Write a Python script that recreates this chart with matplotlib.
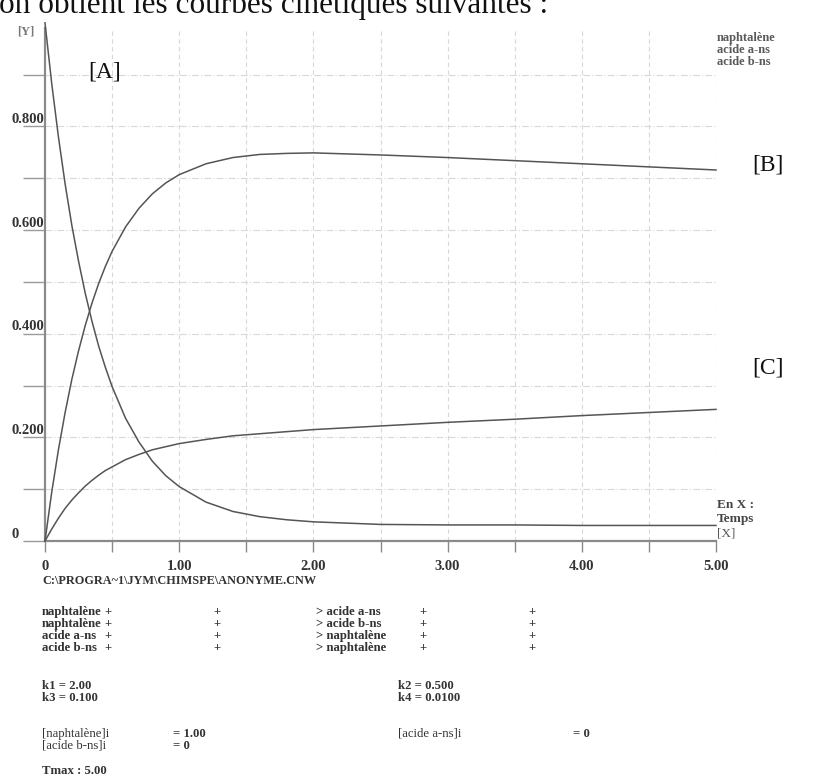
import matplotlib
matplotlib.use("Agg")
import matplotlib.pyplot as plt

# ---------------- data ----------------
t = [0, 0.05, 0.1, 0.15, 0.2, 0.25, 0.3, 0.35, 0.4, 0.45, 0.5, 0.6, 0.7, 0.8, 0.9, 1.0,
     1.2, 1.4, 1.6, 1.8, 2.0, 2.5, 3.0, 3.5, 4.0, 4.5, 5.0]
naphtalene = [1.000, 0.883, 0.780, 0.689, 0.609, 0.540, 0.478, 0.424, 0.376, 0.335, 0.298,
              0.237, 0.191, 0.154, 0.126, 0.105,
              0.075, 0.057, 0.047, 0.041, 0.037, 0.032, 0.031, 0.031, 0.030, 0.030, 0.030]
acide_a = [0.000, 0.094, 0.176, 0.248, 0.312, 0.367, 0.416, 0.459, 0.497, 0.530, 0.559,
           0.606, 0.642, 0.670, 0.691, 0.707,
           0.728, 0.740, 0.746, 0.748, 0.749, 0.745, 0.740, 0.734, 0.728, 0.722, 0.716]
acide_b = [0.000, 0.023, 0.044, 0.063, 0.079, 0.093, 0.106, 0.117, 0.127, 0.136, 0.143,
           0.157, 0.167, 0.176, 0.182, 0.188,
           0.196, 0.203, 0.207, 0.211, 0.215, 0.222, 0.229, 0.235, 0.242, 0.248, 0.254]

x_ticks = [0, 1, 2, 3, 4, 5]
x_tick_labels = ["0", "1.00", "2.00", "3.00", "4.00", "5.00"]
y_ticks = [0, 0.2, 0.4, 0.6, 0.8]
y_tick_labels = ["0", "0.200", "0.400", "0.600", "0.800"]
legend_names = ["naphtalène", "acide a-ns", "acide b-ns"]
curve_labels = ["[A]", "[B]", "[C]"]

reactions = [
    ["naphtalène", "+", "+", "> acide a-ns", "+", "+"],
    ["naphtalène", "+", "+", "> acide b-ns", "+", "+"],
    ["acide a-ns", "+", "+", "> naphtalène", "+", "+"],
    ["acide b-ns", "+", "+", "> naphtalène", "+", "+"],
]
constants = [["k1 = 2.00", "k2 = 0.500"], ["k3 = 0.100", "k4 = 0.0100"]]
initials = [["[naphtalène]i", "= 1.00", "[acide a-ns]i", "= 0"],
            ["[acide b-ns]i", "= 0", "", ""]]

# ---------------- figure ----------------
W, H = 817, 782
fig = plt.figure(figsize=(W / 100, H / 100), dpi=100)
fig.patch.set_facecolor("white")

SERIF = ["Liberation Serif", "DejaVu Serif"]


def ftext(x, y, s, **kw):
    kw.setdefault("family", SERIF)
    return fig.text(x / W, 1 - y / H, s, **kw)


x0, x1 = 45, 716
y0, ytop = 541, 28
ax = fig.add_axes([x0 / W, 1 - y0 / H, (x1 - x0) / W, (y0 - ytop) / H])
ax.set_xlim(0, 5)
ax.set_ylim(0, 0.99)
ax.set_facecolor("none")

for s in ["top", "right"]:
    ax.spines[s].set_visible(False)
for s in ["left", "bottom"]:
    ax.spines[s].set_color("#8a8a8a")
    ax.spines[s].set_linewidth(1.6)

# grid
for gx in [0.5, 1.0, 1.5, 2.0, 2.5, 3.0, 3.5, 4.0, 4.5, 5.0]:
    ax.axvline(gx, color="#d8d8d8", lw=0.8, ls=(0, (4, 3)), zorder=0)
for gy in [0.1, 0.2, 0.3, 0.4, 0.5, 0.6, 0.7, 0.8, 0.9]:
    ax.axhline(gy, color="#d8d8d8", lw=0.8, ls=(0, (6, 2, 1, 2)), zorder=0)

# ticks
ax.set_xticks([0, 0.5, 1, 1.5, 2, 2.5, 3, 3.5, 4, 4.5, 5])
ax.set_yticks([0, 0.1, 0.2, 0.3, 0.4, 0.5, 0.6, 0.7, 0.8, 0.9])
ax.tick_params(axis="x", direction="out", length=8, width=1, color="#8a8a8a", labelbottom=False)
ax.tick_params(axis="y", direction="out", length=16, width=1, color="#9a9a9a", labelleft=False)

# curves
for series in [naphtalene, acide_a, acide_b]:
    ax.plot(t, series, color="#555555", lw=1.1, clip_on=False, zorder=3)

# tick labels
for v, lab in zip(x_ticks, x_tick_labels):
    px = x0 + v / 5 * (x1 - x0)
    ftext(px, 567, lab, ha="center", va="center", fontsize=10.5, weight="bold", color="#333333")
for v, lab in zip(y_ticks, y_tick_labels):
    py = y0 - v / 0.99 * (y0 - ytop)
    ftext(11, py - 7, lab, ha="left", va="center", fontsize=10.5, weight="bold", color="#333333")
ftext(17, 31, "[Y]", ha="left", va="center", fontsize=9, weight="bold", color="#777777")

# legend-like names
for i, name in enumerate(legend_names):
    ftext(717, 38 + 12 * i, name, ha="left", va="center", fontsize=9, weight="bold", color="#5a5a5a")

# x axis caption
ftext(717, 505, "En X :", ha="left", va="center", fontsize=9.5, weight="bold", color="#444444")
ftext(717, 519, "Temps", ha="left", va="center", fontsize=9.5, weight="bold", color="#444444")
ftext(717, 534, "[X]", ha="left", va="center", fontsize=9.5, color="#555555")

# curve labels
ftext(88, 72, curve_labels[0], ha="left", va="center", fontsize=17, color="#111111")
ftext(752, 165, curve_labels[1], ha="left", va="center", fontsize=17, color="#111111")
ftext(752, 368, curve_labels[2], ha="left", va="center", fontsize=17, color="#111111")

# top caption (cut off by the page edge, as in the reference)
ftext(-1, 13, "on obtient les courbes cinétiques suivantes :", ha="left", va="baseline",
      fontsize=22.5, color="#111111")

# path
ftext(42, 581, "C:\\PROGRA~1\\JYM\\CHIMSPE\\ANONYME.CNW", ha="left", va="center",
      fontsize=8.8, weight="bold", color="#333333")

# reactions
cols = [42, 104, 213, 316, 419, 528]
for r, row in enumerate(reactions):
    for c, s in zip(cols, row):
        ftext(c, 612 + 12 * r, s, ha="left", va="center", fontsize=9.2, weight="bold", color="#333333")

for r, row in enumerate(constants):
    ftext(42, 686 + 12 * r, row[0], ha="left", va="center", fontsize=9.2, weight="bold", color="#333333")
    ftext(398, 686 + 12 * r, row[1], ha="left", va="center", fontsize=9.2, weight="bold", color="#333333")

icols = [42, 173, 398, 573]
for r, row in enumerate(initials):
    for c, s in zip(icols, row):
        if s:
            ftext(c, 734 + 12 * r, s, ha="left", va="center", fontsize=9.2, color="#333333",
                  weight="bold" if s.startswith("=") else "normal")

ftext(42, 771, "Tmax : 5.00", ha="left", va="center", fontsize=9.2, weight="bold", color="#333333")

fig.savefig("out.png", dpi=100, facecolor="white")
